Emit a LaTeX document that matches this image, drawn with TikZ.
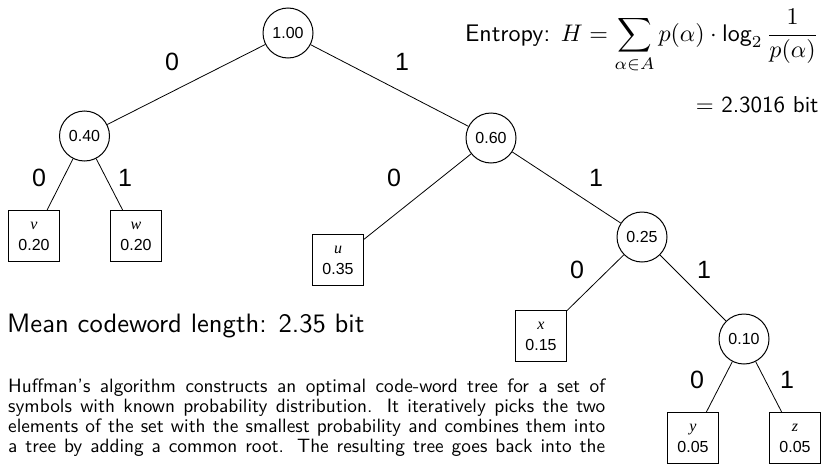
\RequirePackage{fix-cm}
\documentclass[tikz,border=0pt]{standalone}
\usepackage{amsmath}
\usepackage{fontspec}
\setsansfont{lmsans10-regular.otf}
\newfontfamily\hel{Liberation Sans}
\newfontfamily\tim{Liberation Serif}
\tikzset{
  inner/.style={circle, draw, line width=1pt, minimum size=50pt, inner sep=0pt, font=\hel\fontsize{16}{19}\selectfont},
  leaf/.style={rectangle, draw, line width=1pt, minimum size=51pt, inner sep=0pt, align=center, font=\fontsize{16}{21}\selectfont},
  bitlabel/.style={font=\hel\fontsize{25}{30}\selectfont, inner sep=0pt},
  edge/.style={line width=0.8pt},
  formula/.style={anchor=base east, inner sep=0pt, font=\sffamily\fontsize{10}{12}\selectfont}
}
\begin{document}
\begin{tikzpicture}[x=1pt,y=-1pt]
\useasboundingbox (0,0) rectangle (826,463);
% inner nodes
\node[inner] (r)   at (288,33)  {1.00};
\node[inner] (n40) at (84.5,136) {0.40};
\node[inner] (n60) at (491,138) {0.60};
\node[inner] (n25) at (642,237) {0.25};
\node[inner] (n10) at (744,339) {0.10};
% leaves
\node[leaf] (v) at (34,236)  {{\tim\itshape v}\\{\hel 0.20}};
\node[leaf] (w) at (136,236) {{\tim\itshape w}\\{\hel 0.20}};
\node[leaf] (u) at (338,260) {{\tim\itshape u}\\{\hel 0.35}};
\node[leaf] (x) at (541,336) {{\tim\itshape x}\\{\hel 0.15}};
\node[leaf] (y) at (693,438) {{\tim\itshape y}\\{\hel 0.05}};
\node[leaf] (z) at (795,438) {{\tim\itshape z}\\{\hel 0.05}};
% edges
\draw[edge] (r) -- (n40);
\draw[edge] (r) -- (n60);
\draw[edge] (n40) -- (v);
\draw[edge] (n40) -- (w);
\draw[edge] (n60) -- (u);
\draw[edge] (n60) -- (n25);
\draw[edge] (n25) -- (x);
\draw[edge] (n25) -- (n10);
\draw[edge] (n10) -- (y);
\draw[edge] (n10) -- (z);
% edge labels
\node[bitlabel] (la0) at (172,62) {0};
\node[bitlabel] (la1) at (402,62) {1};
\node[bitlabel] (lb0) at (39,178) {0};
\node[bitlabel] (lb1) at (125,178) {1};
\node[bitlabel] (lc0) at (394,178) {0};
\node[bitlabel] (lc1) at (596,178) {1};
\node[bitlabel] (ld0) at (577,270) {0};
\node[bitlabel] (ld1) at (704,270) {1};
\node[bitlabel] (le0) at (697,380) {0};
\node[bitlabel] (le1) at (787,380) {1};
% entropy
\node[formula, scale=2.4] (ent) at (819,41)
  {Entropy: $\displaystyle H=\sum_{\alpha\in A} p(\alpha)\cdot\mathop{\mathsf{log}}\nolimits_2\frac{1}{p(\alpha)}$};
\node[formula, scale=2.3] (entv) at (819,112)
  {$=$ 2.3016 bit};
% mean codeword length
\node[anchor=base west, inner sep=0pt, font=\sffamily\fontsize{26.6}{32}\selectfont] (mean) at (7,332)
  {Mean codeword length: 2.35 bit};
% paragraph
\node[anchor=base west, inner sep=0pt, font=\sffamily\fontsize{19.3}{20}\selectfont] (para) at (8,392)
  {\parbox[t]{597pt}{\parfillskip=0pt\parindent=0pt
  Huffman's algorithm constructs an optimal code-word tree for a set of\linebreak
  symbols with known probability distribution. It iteratively picks the two\linebreak
  elements of the set with the smallest probability and combines them into\linebreak
  a tree by adding a common root. The resulting tree goes back into the}};
\end{tikzpicture}
\end{document}
